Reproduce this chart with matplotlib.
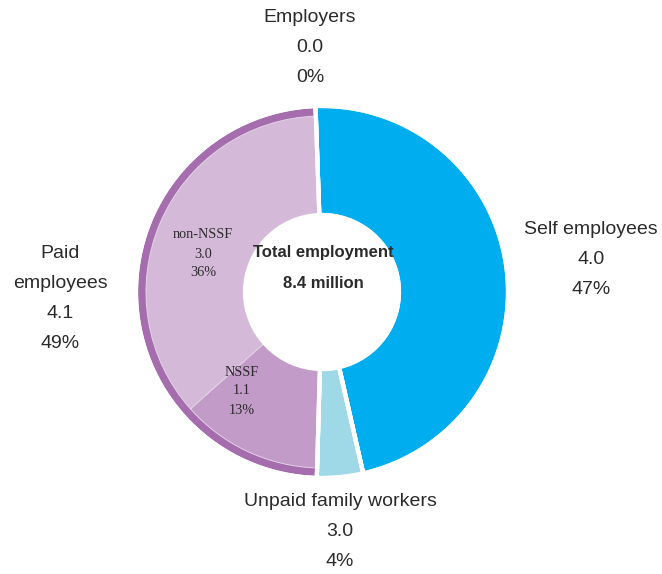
import matplotlib.pyplot as plt

# Employment by status, millions and share of total
groups = ['Self employees', 'Unpaid family workers', 'Paid employees']
group_shares = [47, 4, 49]
group_labels = [
    ['Self employees', '4.0', '47%'],
    ['Unpaid family workers', '3.0', '4%'],
    ['Paid', 'employees', '4.1', '49%'],
]
employers_label = ['Employers', '0.0', '0%']

# Paid employees split by NSSF coverage
paid_parts = ['NSSF', 'non-NSSF']
paid_shares = [13, 36]
paid_labels = [['NSSF', '1.1', '13%'], ['non-NSSF', '3.0', '36%']]

total_label = ['Total employment', '8.4 million']

group_colors = ['#00aeef', '#9fd9e7', '#a56dae']
paid_colors = ['#c39bc9', '#d4bad8']
text_color = '#2b2b2b'

W, H = 662, 574
fig = plt.figure(figsize=(W / 100, H / 100), dpi=100)
ax = fig.add_axes([0, 0, 1, 1])

cx, cy = 322, H - 292
r_out = 186
r_mid = 176
r_hole = 77
start = 92

# outer ring: self employed, unpaid, and the paid band
ax.pie(group_shares, colors=group_colors, radius=r_out, center=(cx, cy),
       startangle=start, counterclock=False, frame=True,
       wedgeprops=dict(width=r_out - r_hole, edgecolor='white', linewidth=3))

# inner split of paid employees
inner, _ = ax.pie(group_shares[:2] + paid_shares,
                  colors=['none', 'none'] + paid_colors, radius=r_mid,
                  center=(cx, cy), startangle=start, counterclock=False,
                  frame=True,
                  wedgeprops=dict(width=r_mid - r_hole, edgecolor='#e2d3e5',
                                  linewidth=0.7))
inner[0].set_visible(False)
inner[1].set_visible(False)

# white separators between the main groups
ax.pie(group_shares, radius=r_out, center=(cx, cy), startangle=start,
       counterclock=False, frame=True,
       wedgeprops=dict(width=r_out - r_hole, fill=False, edgecolor='white',
                       linewidth=3))

ax.set_xlim(0, W)
ax.set_ylim(0, H)
ax.set_aspect('equal')
ax.axis('off')


def stack(x, y_top, lines, step, **kw):
    # one text per line so the spacing is fixed in pixels
    for i, s in enumerate(lines):
        ax.text(x, H - (y_top + i * step), s, ha='center', va='center',
                color=text_color, **kw)


sans = dict(family='Liberation Sans', fontsize=14)
stack(591, 230, group_labels[0], 30, **sans)
stack(340, 501, group_labels[1], 30, **sans)
stack(60, 253, group_labels[2], 30, **sans)
stack(310, 18, employers_label, 30, **sans)

serif = dict(family='Liberation Serif', fontsize=10.3)
stack(242, 372, paid_labels[0], 19, **serif)
stack(203, 235, paid_labels[1], 19, **serif)

stack(323, 253, total_label, 30, family='Liberation Sans', fontsize=12,
      weight='bold')

fig.savefig('out.png', dpi=100)
